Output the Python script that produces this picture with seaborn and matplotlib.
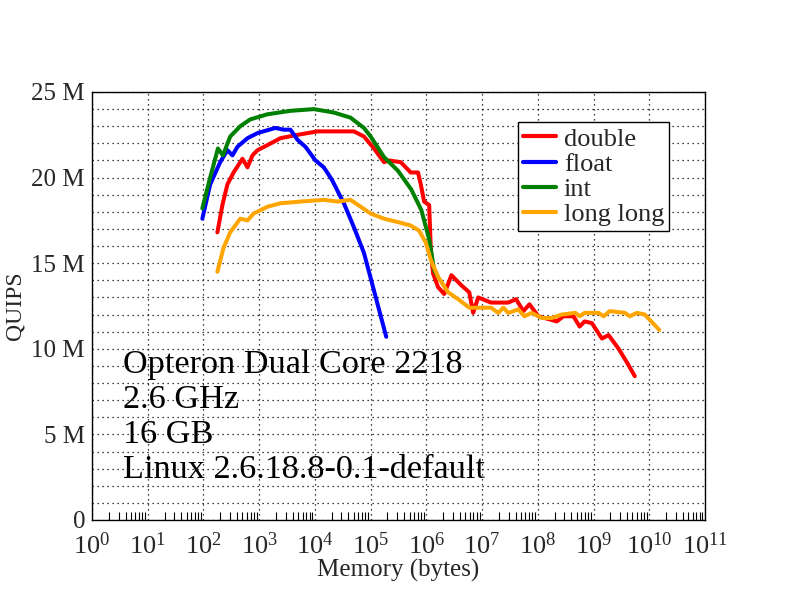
import numpy as np
import pandas as pd
import seaborn as sns
import matplotlib
matplotlib.use("Agg")
import matplotlib.pyplot as plt
from matplotlib.ticker import FixedLocator, NullFormatter

# ---- data (x as log10 of memory in bytes, y in millions of QUIPS) ----
double_logx = [2.25, 2.34, 2.43, 2.54, 2.70, 2.79, 2.88, 2.97, 3.15, 3.38, 3.69, 4.05, 4.41, 4.70,
               4.88, 5.06, 5.24, 5.33, 5.54, 5.72, 5.85, 5.90, 5.96, 6.05, 6.08, 6.12, 6.21, 6.32,
               6.45, 6.63, 6.77, 6.84, 6.93, 7.16, 7.47, 7.61, 7.74, 7.85, 8.01, 8.34, 8.46, 8.64,
               8.75, 8.84, 8.97, 9.15, 9.27, 9.45, 9.60, 9.74]
double_q = [16.8, 18.4, 19.6, 20.3, 21.1, 20.6, 21.3, 21.6, 21.9, 22.3, 22.5, 22.7, 22.7, 22.7,
            22.4, 21.7, 20.9, 21.0, 20.9, 20.3, 20.3, 19.6, 18.6, 18.4, 15.8, 14.4, 13.6, 13.2,
            14.3, 13.7, 13.3, 12.1, 13.0, 12.7, 12.7, 12.9, 12.2, 12.6, 11.9, 11.6, 11.9, 11.9,
            11.3, 11.6, 11.5, 10.6, 10.8, 10.0, 9.2, 8.4]

float_logx = [1.98, 2.12, 2.30, 2.43, 2.52, 2.61, 2.79, 2.97, 3.29, 3.44, 3.56, 3.69, 3.83, 4.01,
              4.16, 4.30, 4.52, 4.70, 4.88, 5.06, 5.28]
float_q = [17.6, 19.6, 20.9, 21.6, 21.3, 21.8, 22.3, 22.6, 22.9, 22.8, 22.8, 22.2, 21.8, 21.0,
           20.6, 19.9, 18.5, 17.1, 15.6, 13.4, 10.7]

int_logx = [1.98, 2.12, 2.26, 2.35, 2.48, 2.66, 2.84, 3.15, 3.56, 3.98, 4.34, 4.64, 4.88, 5.00,
            5.24, 5.49, 5.73, 5.91, 6.05, 6.14, 6.21]
int_q = [18.2, 20.0, 21.7, 21.3, 22.4, 23.0, 23.4, 23.7, 23.9, 24.0, 23.8, 23.5, 22.9, 22.4,
         21.2, 20.4, 19.3, 18.1, 16.4, 14.6, 14.2]

longlong_logx = [2.25, 2.36, 2.48, 2.66, 2.79, 2.90, 3.15, 3.38, 3.74, 4.16, 4.41, 4.64, 4.82,
                 5.00, 5.24, 5.49, 5.72, 5.87, 5.99, 6.08, 6.21, 6.39, 6.57, 6.77, 6.98, 7.16,
                 7.29, 7.38, 7.47, 7.65, 7.76, 7.89, 8.07, 8.25, 8.43, 8.67, 8.75, 8.84, 9.09,
                 9.18, 9.29, 9.56, 9.65, 9.78, 9.92, 10.18]
longlong_q = [14.5, 15.9, 16.8, 17.6, 17.5, 17.9, 18.3, 18.5, 18.6, 18.7, 18.6, 18.7, 18.3,
              17.9, 17.6, 17.4, 17.2, 16.9, 16.2, 15.2, 14.2, 13.3, 12.9, 12.4, 12.4, 12.4,
              12.1, 12.4, 12.1, 12.3, 11.9, 12.1, 11.8, 11.8, 12.0, 12.1, 11.9, 12.1, 12.1,
              11.9, 12.2, 12.1, 11.9, 12.1, 12.0, 11.1]

series_names = ["double", "float", "int", "long long"]
series_colors = ["#ff0000", "#0000ff", "#008000", "#ffa500"]
ytick_vals = [0, 5, 10, 15, 20, 25]
ytick_labels = ["0", "5 M", "10 M", "15 M", "20 M", "25 M"]
xtick_exps = list(range(0, 12))
annot_lines = ["Opteron Dual Core 2218", "2.6 GHz", "16 GB", "Linux 2.6.18.8-0.1-default"]

frames = []
for name, lx, q in zip(series_names,
                       [double_logx, float_logx, int_logx, longlong_logx],
                       [double_q, float_q, int_q, longlong_q]):
    frames.append(pd.DataFrame({"mem": 10.0 ** np.array(lx),
                                "quips": np.array(q) * 1e6,
                                "type": name}))
df = pd.concat(frames, ignore_index=True)

sns.set_theme(style="white")
plt.rcParams["font.family"] = ["Liberation Serif", "DejaVu Serif"]
plt.rcParams["mathtext.fontset"] = "custom"
plt.rcParams["mathtext.rm"] = "Liberation Serif"
plt.rcParams["mathtext.it"] = "Liberation Serif:italic"

fig = plt.figure(figsize=(7.92, 6.12), dpi=100)
ax = fig.add_axes([92 / 792, 1 - 520 / 612, 613 / 792, 428 / 612])

sns.lineplot(data=df, x="mem", y="quips", hue="type", hue_order=series_names,
             palette=dict(zip(series_names, series_colors)), sort=False,
             estimator=None, linewidth=2.9, ax=ax, legend=True, zorder=3)

ax.set_xscale("log")
ax.set_xlim(1, 1e11)
ax.set_ylim(0, 25e6)

ax.xaxis.set_major_locator(FixedLocator([10.0 ** e for e in xtick_exps]))
ax.set_xticklabels([r"$10^{%d}$" % e for e in xtick_exps], fontsize=19)
minor_x = [m * 10.0 ** e for e in range(0, 11) for m in range(2, 10)]
ax.xaxis.set_minor_locator(FixedLocator(minor_x))
ax.xaxis.set_minor_formatter(NullFormatter())

ax.set_yticks([v * 1e6 for v in ytick_vals])
ax.set_yticklabels(ytick_labels, fontsize=18)
ax.yaxis.set_minor_locator(FixedLocator([v * 1e6 for v in range(1, 25)]))

ax.tick_params(axis="x", which="major", length=0, pad=9)
ax.tick_params(axis="x", which="minor", direction="in", length=6, width=0.8, color="black",
               bottom=True)
ax.tick_params(axis="y", which="both", length=0, pad=5)

ax.grid(False)
ax.xaxis.grid(True, which="major", color="black", linestyle=(0, (1, 3)), linewidth=0.9)
ax.yaxis.grid(True, which="both", color="black", linestyle=(0, (1, 3)), linewidth=0.9)
ax.set_axisbelow(True)

for s in ax.spines.values():
    s.set_color("black")
    s.set_linewidth(1.0)
    s.set_visible(True)

ax.set_xlabel("Memory (bytes)", fontsize=18, labelpad=0)
ax.set_ylabel("QUIPS", fontsize=17, labelpad=4)

baselines = [0.343, 0.262, 0.180, 0.098]
for txt, yb in zip(annot_lines, baselines):
    ax.text(0.05, yb, txt, transform=ax.transAxes, fontsize=24.7, va="baseline",
            ha="left", color="black")

leg = ax.legend(loc="upper right", bbox_to_anchor=(0.942, 0.930), fontsize=19,
                frameon=True, fancybox=False, framealpha=1, edgecolor="black",
                borderpad=0.2, labelspacing=0.06, handlelength=1.25, handletextpad=0.3,
                borderaxespad=0.0)
leg.get_frame().set_linewidth(1.0)
for line in leg.get_lines():
    line.set_linewidth(3.0)

fig.savefig("out.png", dpi=100, facecolor="white")
